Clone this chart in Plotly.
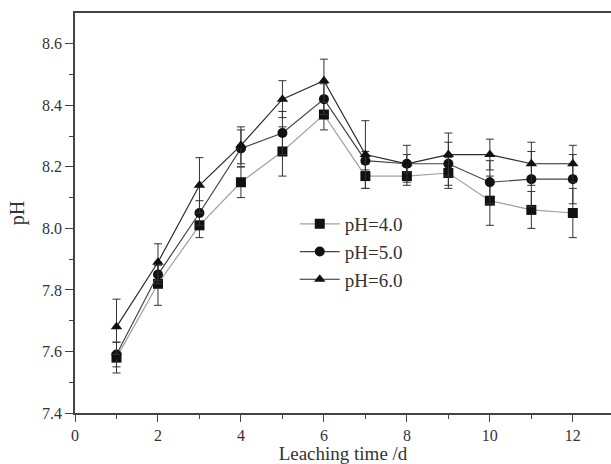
import plotly.graph_objects as go

days = [1, 2, 3, 4, 5, 6, 7, 8, 9, 10, 11, 12]

ph4 = [7.58, 7.82, 8.01, 8.15, 8.25, 8.37, 8.17, 8.17, 8.18, 8.09, 8.06, 8.05]
ph4_err = [0.05, 0.07, 0.04, 0.05, 0.08, 0.05, 0.04, 0.03, 0.05, 0.08, 0.06, 0.08]

ph5 = [7.59, 7.85, 8.05, 8.26, 8.31, 8.42, 8.22, 8.21, 8.21, 8.15, 8.16, 8.16]
ph5_err = [0.04, 0.03, 0.04, 0.06, 0.07, 0.05, 0.03, 0.03, 0.07, 0.07, 0.09, 0.08]

ph6 = [7.68, 7.89, 8.14, 8.27, 8.42, 8.48, 8.24, 8.21, 8.24, 8.24, 8.21, 8.21]
ph6_err = [0.09, 0.06, 0.09, 0.06, 0.06, 0.07, 0.11, 0.06, 0.07, 0.05, 0.07, 0.06]

names = ["pH=4.0", "pH=5.0", "pH=6.0"]
symbols = ["square", "circle", "triangle-up"]
line_colors = ["#a0a0a0", "#444444", "#2a2a2a"]

FONT = "Liberation Serif"
AX = "#444444"

fig = go.Figure()
for y, e, n, s, c in zip([ph4, ph5, ph6], [ph4_err, ph5_err, ph6_err], names, symbols, line_colors):
    fig.add_trace(go.Scatter(
        x=days, y=y, name=n, mode="lines+markers",
        line=dict(color=c, width=1.2),
        marker=dict(symbol=s, size=10, color="#111111"),
        error_y=dict(type="data", array=e, visible=True, color="#333333", thickness=1, width=4),
    ))

# white strip at the far right edge (reference has no right frame)
fig.add_shape(type="rect", xref="paper", yref="paper", x0=0.985, x1=1.05, y0=0.005, y1=0.995,
              fillcolor="white", line=dict(width=0), layer="above")

fig.update_layout(
    width=611, height=464,
    margin=dict(l=75, r=0, t=13, b=51),
    paper_bgcolor="white", plot_bgcolor="white",
    font=dict(family=FONT, color="#333333", size=16),
    legend=dict(x=0.41, y=0.52, xanchor="left", yanchor="top",
                font=dict(family=FONT, size=19, color="#333333"),
                bgcolor="rgba(0,0,0,0)", itemwidth=40, tracegroupgap=0),
    showlegend=True,
)
fig.update_xaxes(
    range=[0, 12.92], tickmode="array", tickvals=[0, 2, 4, 6, 8, 10, 12],
    ticks="outside", ticklen=7, tickcolor=AX, tickwidth=1.2,
    minor=dict(tickvals=[1, 3, 5, 7, 9, 11], ticks="outside", ticklen=4, tickcolor=AX),
    showline=True, linecolor=AX, linewidth=1.5, mirror=True,
    showgrid=False, zeroline=False, automargin=False,
    title=dict(text="Leaching time /d", font=dict(family=FONT, size=19), standoff=8),
    tickfont=dict(family=FONT, size=16),
)
fig.update_yaxes(
    range=[7.4, 8.7], tickmode="array", tickvals=[7.4, 7.6, 7.8, 8.0, 8.2, 8.4, 8.6],
    ticktext=["7.4", "7.6", "7.8", "8.0", "8.2", "8.4", "8.6"],
    ticks="outside", ticklen=8, tickcolor=AX, tickwidth=1.2,
    minor=dict(tickvals=[7.5, 7.7, 7.9, 8.1, 8.3, 8.5], ticks="outside", ticklen=4, tickcolor=AX),
    showline=True, linecolor=AX, linewidth=1.5, mirror=False,
    showgrid=False, zeroline=False, automargin=False,
    title=dict(text="pH", font=dict(family=FONT, size=20), standoff=12),
    tickfont=dict(family=FONT, size=16),
)

fig.write_html(
    "out.html", config={"displayModeBar": False},
    post_script=("document.body.style.margin='0';"
                 "document.body.style.overflow='hidden';"
                 "document.documentElement.style.overflow='hidden';"),
)
